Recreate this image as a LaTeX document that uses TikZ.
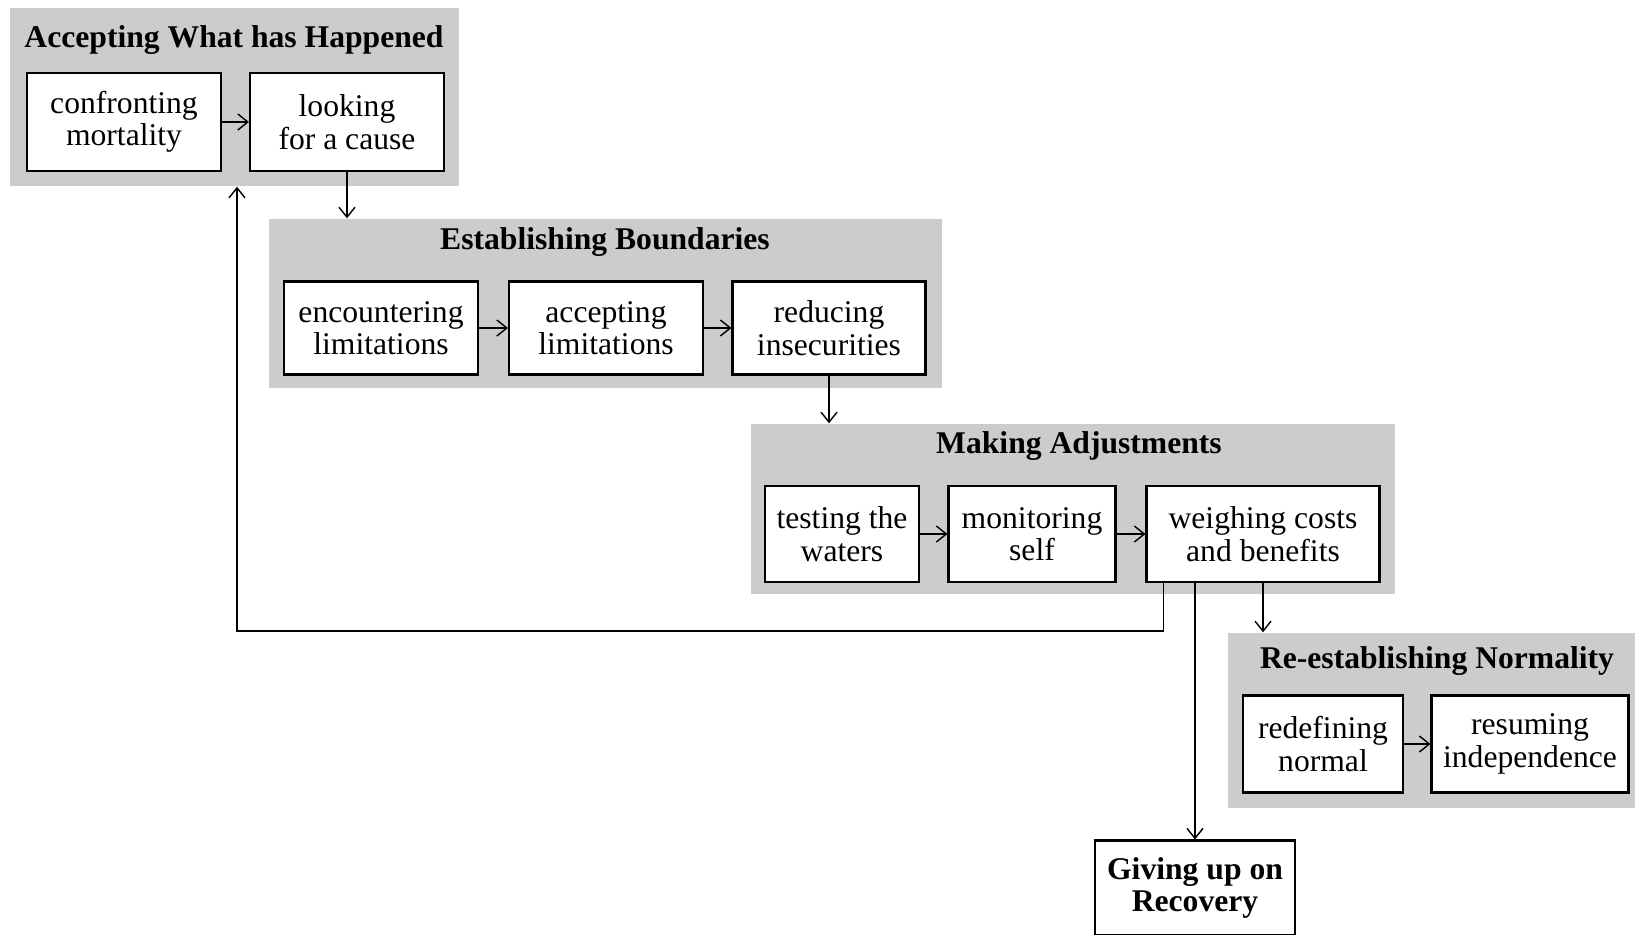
\documentclass[tikz,border=0pt]{standalone}
\usepackage{fontspec}
\setmainfont{Liberation Serif}
\usepackage{tikz}
\usetikzlibrary{positioning,arrows.meta}
\tikzset{>={Straight Barb[length=2mm,width=3.2mm]}}
\tikzstyle{phase}=[fill=black!20,draw=none,rectangle,inner sep=0pt]
\tikzstyle{phasetitle}=[font=\fontsize{18}{18.5}\selectfont\bfseries,inner sep=0pt]
\tikzstyle{task}=[draw,fill=white,rectangle,line width=1.2pt,align=center,font=\fontsize{18}{18.5}\selectfont,minimum height=1.92cm]

\begin{document}
\begin{tikzpicture}[x=0.02cm,y=-0.02cm,line width=0.8pt]
	\useasboundingbox (0,0) rectangle (1635,934);
	% phase backgrounds
	\node (grp1) at (234.5,97) [phase,minimum width=8.98cm,minimum height=3.56cm]{};
	\node (grp2) at (605.5,303.5) [phase,minimum width=13.46cm,minimum height=3.38cm]{};
	\node (grp3) at (1073,509) [phase,minimum width=12.88cm,minimum height=3.4cm]{};
	\node (grp4) at (1431.5,720.5) [phase,minimum width=8.14cm,minimum height=3.5cm]{};
	% phase titles
	\node (title1) at (234,40) [phasetitle]{Accepting What has Happened};
	\node (title2) at (605,242) [phasetitle]{Establishing Boundaries};
	\node (title3) at (1079,446) [phasetitle]{Making Adjustments};
	\node (title4) at (1437,661) [phasetitle]{Re-establishing Normality};
	% steps
	\node (conf) at (124,122) [task,minimum width=3.88cm,minimum height=1.96cm]{confronting\\mortality};
	\node (look) at (347,122) [task,minimum width=3.88cm,minimum height=1.96cm]{looking\\for a cause};
	\node (enc) at (381,328) [task,minimum width=3.88cm,minimum height=1.86cm]{encountering\\limitations};
	\node (acc) at (606,328) [task,minimum width=3.88cm,minimum height=1.86cm]{accepting\\limitations};
	\node (red) at (829,328) [task,minimum width=3.86cm,minimum height=1.86cm]{reducing\\insecurities};
	\node (test) at (842,534) [task,minimum width=3.08cm]{testing the\\waters};
	\node (moni) at (1032,534) [task,minimum width=3.34cm]{monitoring\\self};
	\node (weigh) at (1263,534) [task,minimum width=4.66cm]{weighing costs\\and benefits};
	\node (redef) at (1323,744) [task,minimum width=3.2cm,minimum height=1.94cm]{redefining\\normal};
	\node (resum) at (1530,744) [task,minimum width=3.94cm,minimum height=1.94cm]{resuming\\independence};
	\node (giving) at (1195,888) [task,minimum width=4cm,minimum height=1.9cm,font=\fontsize{18}{18.5}\selectfont\bfseries]{Giving up on\\Recovery};
	\coordinate (back) at (237,631);
	% connectors
	\draw [->] (conf) -- (look);
	\draw [->] (enc) -- (acc);
	\draw [->] (acc) -- (red);
	\draw [->] (test) -- (moni);
	\draw [->] (moni) -- (weigh);
	\draw [->] (redef) -- (resum);
	\draw [->] (look.south) -- (look.south |- grp2.north);
	\draw [->] (red.south) -- (red.south |- grp3.north);
	\draw [->] (weigh.south) -- (weigh.south |- grp4.north);
	\draw [->] (giving.north |- weigh.south) -- (giving.north);
	\draw [->] ([xshift=0.36cm]weigh.south west) |- (back) -- (back |- grp1.south);
\end{tikzpicture}
\end{document}
